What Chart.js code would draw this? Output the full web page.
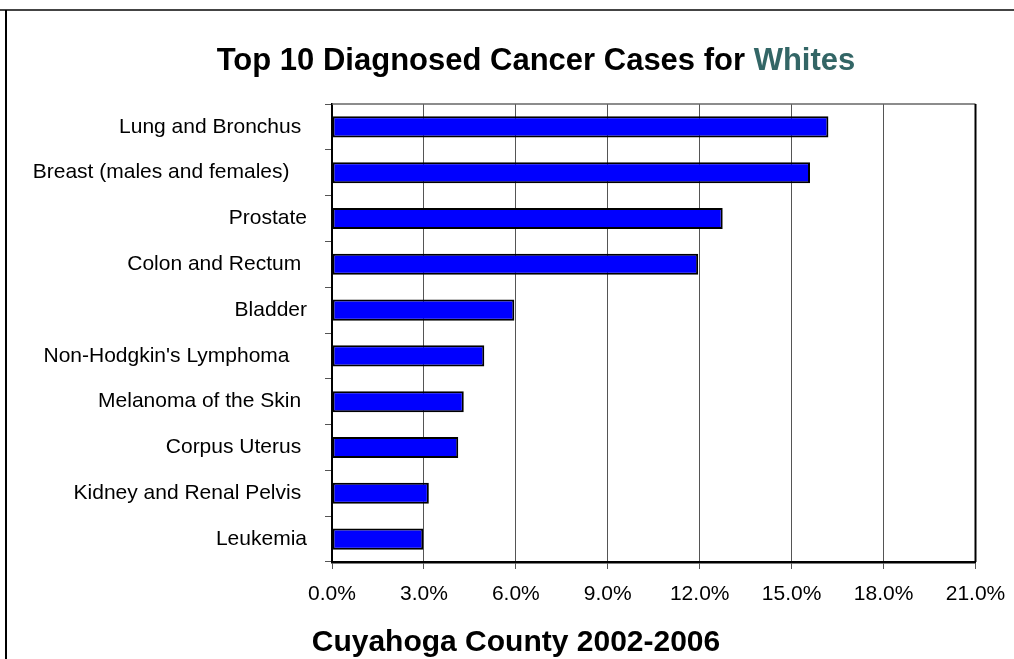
<!DOCTYPE html>
<html>
<head>
<meta charset="utf-8">
<style>
html,body{margin:0;padding:0;background:#fff;}
#wrap{width:1014px;height:659px;position:relative;}
</style>
<script src="https://cdn.jsdelivr.net/npm/chart.js@4/dist/chart.umd.min.js"></script>
</head>
<body>
<div id="wrap"><canvas id="c" width="1014" height="659"></canvas></div>
<script>
const categories = [
  "Lung and Bronchus ",
  "Breast (males and females)   ",
  "Prostate",
  "Colon and Rectum ",
  "Bladder",
  "Non-Hodgkin's Lymphoma   ",
  "Melanoma of the Skin ",
  "Corpus Uterus ",
  "Kidney and Renal Pelvis ",
  "Leukemia"
];
const shares = [16.2, 15.6, 12.75, 11.95, 5.95, 4.97, 4.3, 4.12, 3.16, 2.98];
const titleMain = "Top 10 Diagnosed Cancer Cases for ";
const titleGroup = "Whites";
const footerTitle = "Cuyahoga County 2002-2006";
const xMin = 0, xMax = 21, xStep = 3;

const FONT = '"Liberation Sans", Arial, sans-serif';

const decor = {
  id: 'decor',
  beforeDraw(chart) {
    const ctx = chart.ctx;
    ctx.save();
    ctx.fillStyle = '#fff';
    ctx.fillRect(0, 0, chart.width, chart.height);
    ctx.lineWidth = 2;
    ctx.strokeStyle = '#444';
    ctx.beginPath();
    ctx.moveTo(0, 10); ctx.lineTo(chart.width, 10);
    ctx.stroke();
    ctx.strokeStyle = '#000';
    ctx.beginPath();
    ctx.moveTo(6, 10); ctx.lineTo(6, chart.height);
    ctx.stroke();
    ctx.restore();
  },
  afterDraw(chart) {
    const ctx = chart.ctx;
    const a = chart.chartArea;
    ctx.save();
    ctx.strokeStyle = '#666';
    ctx.lineWidth = 1.5;
    ctx.beginPath();
    ctx.moveTo(a.left, a.top); ctx.lineTo(a.right, a.top);
    ctx.stroke();
    ctx.strokeStyle = '#000';
    ctx.lineWidth = 2;
    ctx.beginPath();
    ctx.moveTo(a.right, a.top); ctx.lineTo(a.right, a.bottom);
    ctx.stroke();
    ctx.font = 'bold 31px ' + FONT;
    ctx.textBaseline = 'alphabetic';
    ctx.textAlign = 'left';
    const w1 = ctx.measureText(titleMain).width;
    const w2 = ctx.measureText(titleGroup).width;
    const x0 = 536 - (w1 + w2) / 2;
    ctx.fillStyle = '#000';
    ctx.fillText(titleMain, x0, 70);
    ctx.fillStyle = '#336666';
    ctx.fillText(titleGroup, x0 + w1, 70);
    ctx.font = 'bold 30px ' + FONT;
    ctx.fillStyle = '#000';
    ctx.textAlign = 'center';
    ctx.fillText(footerTitle, 516, 651);
    ctx.restore();
  }
};

new Chart(document.getElementById('c').getContext('2d'), {
  type: 'bar',
  data: {
    labels: categories,
    datasets: [{
      data: shares,
      backgroundColor: '#0000FF',
      borderColor: '#000',
      borderWidth: 2,
      borderSkipped: false,
      barPercentage: 0.46,
      categoryPercentage: 1
    }]
  },
  options: {
    indexAxis: 'y',
    responsive: false,
    animation: false,
    devicePixelRatio: 1,
    layout: { padding: { top: 104, right: 38.5, left: 0, bottom: 0 } },
    plugins: { legend: { display: false }, tooltip: { enabled: false }, title: { display: false } },
    scales: {
      x: {
        min: xMin, max: xMax,
        ticks: {
          stepSize: xStep,
          color: '#000',
          font: { family: FONT, size: 21 },
          padding: 13,
          maxRotation: 0,
          callback: v => Number(v).toFixed(1) + '%'
        },
        grid: {
          color: c => (c.tick && c.tick.value === xMax) ? '#000' : '#555',
          lineWidth: 1,
          tickLength: 7,
          tickColor: '#555'
        },
        border: { color: '#000', width: 2.5 },
        afterFit(s) { s.height = 97; s.paddingRight = 0; s.paddingLeft = 0; }
      },
      y: {
        ticks: {
          color: '#000',
          font: { family: FONT, size: 21 },
          padding: 18
        },
        grid: { drawOnChartArea: false, tickLength: 7, color: '#555' },
        border: { color: '#000', width: 2 },
        afterFit(s) { s.width = 332; s.paddingTop = 0; s.paddingBottom = 0; }
      }
    }
  },
  plugins: [decor]
});
</script>
</body>
</html>
